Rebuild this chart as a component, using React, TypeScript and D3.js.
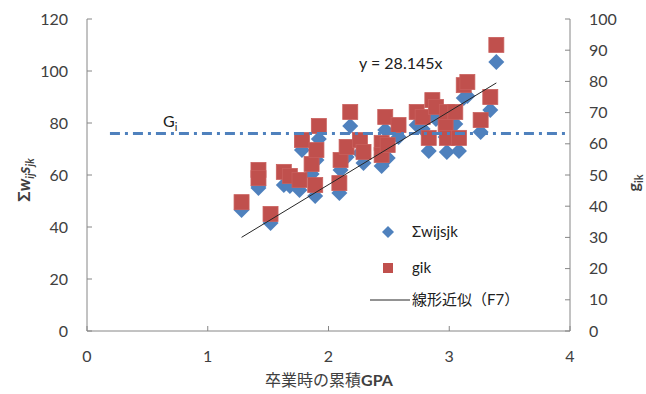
import React from 'react';
import * as d3 from 'd3';

// GPA at graduation (x), Σwijsjk (left axis) and gik (right axis) per student
const gpa = [1.28, 1.42, 1.42, 1.52, 1.63, 1.68, 1.76, 1.78, 1.86, 1.9, 1.89, 1.92, 2.09, 2.1, 2.15, 2.18, 2.26, 2.29, 2.44, 2.44, 2.47, 2.49, 2.58, 2.73, 2.78, 2.86, 2.89, 2.83, 2.97, 2.98, 2.98, 3.05, 3.08, 3.12, 3.15, 3.26, 3.34, 3.39];
const sigmaW = [46.5, 55.0, 55.8, 41.5, 56.2, 55.8, 54.2, 69.6, 60.4, 65.8, 51.9, 73.8, 53.1, 61.9, 66.9, 78.8, 68.5, 64.6, 67.7, 63.5, 77.3, 66.5, 74.6, 79.2, 77.7, 83.8, 81.5, 69.2, 74.6, 68.8, 79.2, 79.6, 69.2, 89.6, 90.4, 76.5, 85.0, 103.5];
const gik = [41.3, 51.6, 49.0, 37.5, 51.0, 49.7, 48.4, 61.2, 53.5, 58.0, 46.8, 65.7, 47.4, 54.8, 59.0, 70.2, 61.2, 57.4, 60.3, 56.4, 68.6, 59.6, 66.0, 70.2, 68.6, 74.0, 71.8, 61.9, 66.0, 61.9, 70.2, 70.2, 61.9, 78.8, 79.8, 67.6, 75.0, 91.7];

const xTicks = [0, 1, 2, 3, 4];
const leftTicks = [0, 20, 40, 60, 80, 100, 120];
const rightTicks = [0, 10, 20, 30, 40, 50, 60, 70, 80, 90, 100];

const slope = 28.145; // trendline through origin (F7)
const giLevel = 76; // Gi reference line on the left axis
const giRange = [0.19, 3.98];

const W = 646;
const H = 394;
const m = { left: 87, right: 76, top: 19, bottom: 63 };

const BLUE = '#4F81BD';
const RED = '#C0504D';
const AXIS = '#868686';
const FONT = 'Lato, "Open Sans", "Noto Sans CJK JP", sans-serif';

const App: React.FC = () => {
  const x = d3.scaleLinear().domain([0, 4]).range([m.left, W - m.right]);
  const yL = d3.scaleLinear().domain([0, 120]).range([H - m.bottom, m.top]);
  const yR = d3.scaleLinear().domain([0, 100]).range([H - m.bottom, m.top]);

  const diamond = (cx: number, cy: number, r: number) =>
    `M${cx},${cy - r}L${cx + r},${cy}L${cx},${cy + r}L${cx - r},${cy}Z`;

  const xMin = d3.min(gpa)!;
  const xMax = d3.max(gpa)!;
  const x0 = m.left;
  const x1 = W - m.right;
  const yBottom = H - m.bottom;

  return (
    <div style={{ position: 'absolute', left: 0, top: 0 }}>
      <svg width={W} height={H} style={{ display: 'block', background: '#fff' }} fontFamily={FONT}>
        {/* axes */}
        <line x1={x0} x2={x0} y1={m.top} y2={yBottom} stroke={AXIS} />
        <line x1={x1} x2={x1} y1={m.top} y2={yBottom} stroke={AXIS} />
        <line x1={x0} x2={x1} y1={yBottom} y2={yBottom} stroke={AXIS} />
        {leftTicks.map(t => (
          <g key={'l' + t}>
            <line x1={x0} x2={x0 + 5} y1={yL(t)} y2={yL(t)} stroke={AXIS} />
            <text x={x0 - 19} y={yL(t)} dy="0.35em" textAnchor="end" fontSize={16} fill="#404040">{t}</text>
          </g>
        ))}
        {rightTicks.map(t => (
          <g key={'r' + t}>
            <line x1={x1 - 5} x2={x1} y1={yR(t)} y2={yR(t)} stroke={AXIS} />
            <text x={x1 + 19} y={yR(t)} dy="0.35em" textAnchor="start" fontSize={16} fill="#404040">{t}</text>
          </g>
        ))}
        {xTicks.map(t => (
          <g key={'x' + t}>
            <line x1={x(t)} x2={x(t)} y1={yBottom - 5} y2={yBottom} stroke={AXIS} />
            <text x={x(t)} y={yBottom + 25} dy="0.35em" textAnchor="middle" fontSize={16} fill="#404040">{t}</text>
          </g>
        ))}

        {/* axis titles */}
        <text x={329} y={386} textAnchor="middle" fontSize={16} fill="#404040">
          卒業時の累積<tspan fontWeight="bold">GPA</tspan>
        </text>
        <text transform="translate(30,180) rotate(-90)" textAnchor="middle" fontSize={17} fontWeight="bold" fill="#404040">
          Σ<tspan fontStyle="italic">w</tspan><tspan fontStyle="italic" fontSize={11} dy={4}>ij</tspan>
          <tspan fontStyle="italic" dy={-4}>s</tspan><tspan fontStyle="italic" fontSize={11} dy={4}>jk</tspan>
        </text>
        <text transform="translate(639,183) rotate(-90)" textAnchor="middle" fontSize={16} fontWeight="bold" fill="#404040">
          g<tspan fontSize={11} dy={4}>ik</tspan>
        </text>

        {/* markers */}
        {gpa.map((g, i) => (
          <path key={'d' + i} d={diamond(x(g), yL(sigmaW[i]), 8)} fill={BLUE} />
        ))}
        {gpa.map((g, i) => (
          <rect key={'s' + i} x={x(g) - 7.5} y={yR(gik[i]) - 7.5} width={15} height={15}
            fill={RED} stroke="#C95F5C" strokeWidth={0.8} />
        ))}

        {/* Gi reference line */}
        <line x1={x(giRange[0])} x2={x(giRange[1])} y1={yL(giLevel)} y2={yL(giLevel)}
          stroke={BLUE} strokeWidth={3} strokeDasharray="10 5 3 5" />
        <text x={163} y={127} fontSize={16} fill="#202020">
          G<tspan fontSize={11} dy={4}>i</tspan>
        </text>

        {/* linear trendline */}
        <line x1={x(xMin)} x2={x(xMax)} y1={yL(slope * xMin)} y2={yL(slope * xMax)} stroke="#262626" strokeWidth={1} />
        <text x={359} y={69} fontSize={16} fill="#202020">y = {slope}x</text>

        {/* legend */}
        <path d={diamond(388, 232, 6)} fill={BLUE} />
        <text x={412} y={232} dy="0.35em" fontSize={15} fill="#202020">Σwijsjk</text>
        <rect x={383} y={263} width={10} height={10} fill={RED} />
        <text x={412} y={268} dy="0.35em" fontSize={15} fill="#202020">gik</text>
        <line x1={370} x2={410} y1={300} y2={300} stroke="#262626" />
        <text x={412} y={300} dy="0.35em" fontSize={15} fill="#202020">線形近似（F7）</text>
      </svg>
    </div>
  );
};

export default App;
